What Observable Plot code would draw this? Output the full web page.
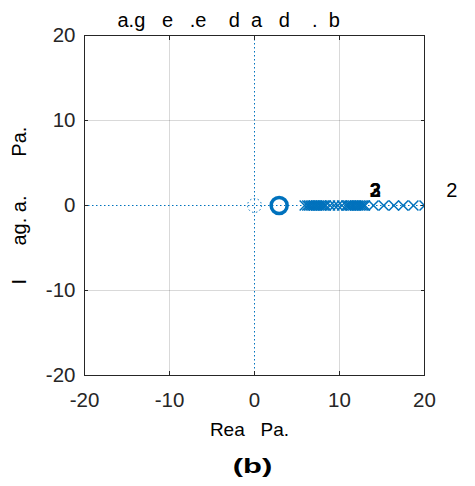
<!DOCTYPE html>
<html>
<head>
<meta charset="utf-8">
<script src="https://cdn.jsdelivr.net/npm/d3@7"></script>
<script src="https://cdn.jsdelivr.net/npm/@observablehq/plot@0.6"></script>
<style>
  html, body { margin: 0; padding: 0; background: #fff; }
  svg text { white-space: pre; }
</style>
</head>
<body>
<div id="chart"></div>
<script>
// ---- data ----
const axisTicks = [-20, -10, 0, 10, 20];
const gridTicks = [-10, 10];
const titleText = "a.g   e   .e    d  a   d    .  b";
const xLabelText = "Rea   Pa.";
const yLabelText = "I      ag. a.       Pa.";
const panelText = "(b)";
const zerosRe = [2.9];
const zerosIm = [0];
const polesRe = [5.9, 6.2, 6.4, 6.6, 6.8, 7.0, 7.2, 7.4, 7.6, 7.8, 8.0, 8.2, 8.4,
                 8.9, 9.4, 9.8, 10.3, 10.8, 11.0, 11.2, 11.4, 11.6, 11.8, 12.0,
                 12.2, 12.4, 12.6, 12.8, 13.0, 14.0, 15.2, 16.4, 17.5, 18.7, 20.0];
const originRe = [0];
const originIm = [0];
const boldLabels = [{re: 14.2, im: 1.7, t: "3"}, {re: 14.2, im: 1.7, t: "2"}];
const outerLabels = [{re: 23.2, im: 1.7, t: "2"}];

const blue = "#0072BD";
const axisColor = "#262626";

const zeros = zerosRe.map((re, i) => ({re, im: zerosIm[i]}));
const poles = polesRe.map(re => ({re, im: 0}));
const origin = originRe.map((re, i) => ({re, im: originIm[i]}));

const chart = Plot.plot({
  width: 475,
  height: 486,
  marginLeft: 84,
  marginRight: 51,
  marginTop: 35,
  marginBottom: 111,
  style: {fontFamily: "'Liberation Sans', Arial, sans-serif", fontSize: "20.5px", color: axisColor, background: "#fff"},
  x: {domain: [-20, 20], label: null},
  y: {domain: [-20, 20], label: null},
  marks: [
    Plot.gridX(gridTicks, {stroke: "#000", strokeOpacity: 0.15}),
    Plot.gridY(gridTicks, {stroke: "#000", strokeOpacity: 0.15}),
    Plot.ruleX([0], {stroke: blue, strokeDasharray: "1.5,2.5", strokeWidth: 1}),
    Plot.ruleY([0], {stroke: blue, strokeDasharray: "1.5,2.5", strokeWidth: 1}),
    Plot.frame({stroke: axisColor, strokeWidth: 1}),
    Plot.axisX(axisTicks, {anchor: "bottom", tickSize: -4, tickPadding: 21, color: axisColor, label: null, tickFormat: d => String(d)}),
    Plot.axisX(axisTicks, {anchor: "top", tickSize: -4, color: axisColor, label: null, tickFormat: () => ""}),
    Plot.axisY(axisTicks, {anchor: "left", tickSize: -4, tickPadding: 13, color: axisColor, label: null, tickFormat: d => String(d)}),
    Plot.axisY(axisTicks, {anchor: "right", tickSize: -4, color: axisColor, label: null, tickFormat: () => ""}),
    Plot.dot(origin, {x: "re", y: "im", r: 7, stroke: blue, strokeWidth: 1, strokeDasharray: "1.5,2.5", fill: "none"}),
    Plot.dot(zeros, {x: "re", y: "im", r: 8, stroke: blue, strokeWidth: 3.5, fill: "none"}),
    Plot.dot(poles, {x: "re", y: "im", symbol: "times", r: 4.6, stroke: blue, strokeWidth: 1.5, clip: true}),
    Plot.text(boldLabels, {x: "re", y: "im", text: "t", fontSize: 20, fontWeight: "bold", fill: "#000"}),
    Plot.text(outerLabels, {x: "re", y: "im", text: "t", fontSize: 20, fill: "#000"}),
    Plot.text([titleText], {text: d => d, frameAnchor: "top-left", textAnchor: "start", dy: -23, dx: 33, fontSize: 20, fill: "#000"}),
    Plot.text([xLabelText], {text: d => d, frameAnchor: "bottom", dy: 60, dx: -5, fontSize: 19, fill: "#000"}),
    Plot.text([panelText], {text: d => d, frameAnchor: "bottom", dy: 97, dx: -2, fontSize: 20, fontWeight: "bold", fill: "#000", className: "panel-label"}),
    Plot.text([yLabelText], {text: d => d, frameAnchor: "bottom-left", textAnchor: "start", dx: -59, dy: -91, rotate: -90, fontSize: 20, fill: "#000"})
  ]
});
// the panel letter is drawn wider than it is tall in the reference
chart.querySelectorAll(".panel-label text").forEach(t => {
  const tr = t.getAttribute("transform") || "";
  t.setAttribute("transform", (tr + " scale(1.55,1)").trim());
});
document.getElementById("chart").appendChild(chart);
</script>
</body>
</html>
